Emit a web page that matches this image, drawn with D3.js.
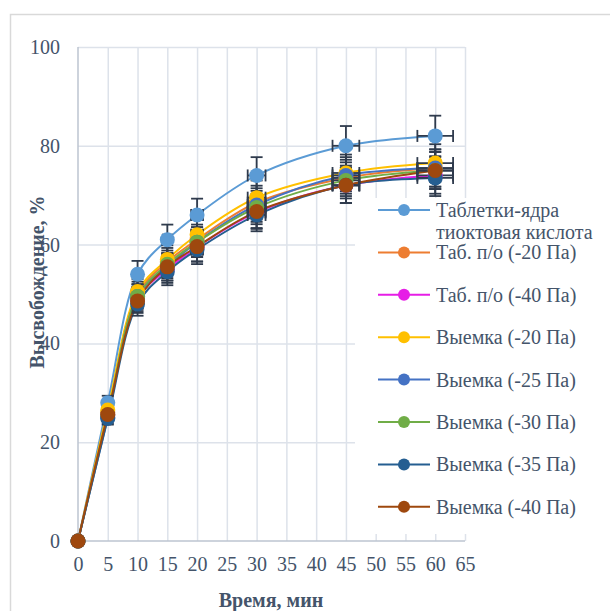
<!DOCTYPE html>
<html>
<head>
<meta charset="utf-8">
<script src="https://cdn.jsdelivr.net/npm/d3@7"></script>
<style>
  body { margin: 0; background: #fff; }
</style>
</head>
<body>
<script>
// data (release, %)
var times = [0, 5, 10, 15, 20, 30, 45, 60];
var coreTabs = [0, 28, 54, 61, 66, 74, 80, 82];
var coated20 = [0, 26, 50, 56.5, 61, 68.5, 73.5, 75.5];
var coated40 = [0, 25.5, 49, 55, 59.5, 66.5, 72, 74];
var notch20 = [0, 26.5, 50.5, 57, 62, 69.5, 74.5, 76.5];
var notch25 = [0, 25, 49.5, 55.5, 60.5, 68, 74, 75.5];
var notch30 = [0, 25.5, 49.5, 56, 60.5, 67.5, 73, 75];
var notch35 = [0, 24.8, 48, 54.5, 59, 66, 72, 73.5];
var notch40 = [0, 25.6, 48.6, 55.5, 59.6, 66.7, 72, 75];

var seriesNames = ["Таблетки-ядра|тиоктовая кислота", "Таб. п/о (-20 Па)", "Таб. п/о (-40 Па)",
  "Выемка (-20 Па)", "Выемка (-25 Па)", "Выемка (-30 Па)", "Выемка (-35 Па)", "Выемка (-40 Па)"];
var seriesValues = [coreTabs, coated20, coated40, notch20, notch25, notch30, notch35, notch40];
var seriesColors = ["#5b9bd5", "#ed7d31", "#e61ee6", "#ffc000", "#4472c4", "#70ad47", "#255e91", "#9e480e"];

var xTicks = d3.range(0, 66, 5);
var yTicks = [0, 20, 40, 60, 80, 100];
var errPct = 0.05; // 5% error bars both ways

var FONT = "'Liberation Serif', 'Times New Roman', serif";
var TXT = "#44546a";

var series = seriesNames.map(function (n, i) {
  return {
    name: n, color: seriesColors[i],
    pts: times.map(function (t, j) { return { x: t, y: seriesValues[i][j] }; })
  };
});

var width = 610, height = 611;
var svg = d3.select("body").append("svg")
  .attr("width", width).attr("height", height)
  .attr("font-family", FONT);

// outer chart border
svg.append("rect")
  .attr("x", 10.5).attr("y", 14.5).attr("width", 700).attr("height", 700)
  .attr("fill", "#fff").attr("stroke", "#d9d9d9").attr("stroke-width", 1.5);

var x = d3.scaleLinear().domain([0, 65]).range([78, 465]);
var y = d3.scaleLinear().domain([0, 100]).range([541, 47]);

// gridlines
svg.append("g")
  .attr("transform", "translate(0,541)")
  .call(d3.axisBottom(x).tickValues(xTicks.slice(1)).tickSize(-494).tickFormat(""))
  .call(function (g) {
    g.select(".domain").remove();
    g.selectAll("line").attr("stroke", "#dde2ea").attr("stroke-width", 1.5);
  });
svg.append("g")
  .attr("transform", "translate(78,0)")
  .call(d3.axisLeft(y).tickValues(yTicks.slice(1)).tickSize(-387).tickFormat(""))
  .call(function (g) {
    g.select(".domain").remove();
    g.selectAll("line").attr("stroke", "#dde2ea").attr("stroke-width", 1.5);
  });

// axis lines
svg.append("line").attr("x1", 78).attr("x2", 78).attr("y1", 47).attr("y2", 541)
  .attr("stroke", "#bcc4d1").attr("stroke-width", 1.5);
svg.append("line").attr("x1", 78).attr("x2", 465).attr("y1", 541).attr("y2", 541)
  .attr("stroke", "#bcc4d1").attr("stroke-width", 1.5);

// tick labels
svg.append("g")
  .attr("transform", "translate(0,541)")
  .call(d3.axisBottom(x).tickValues(xTicks).tickSize(0).tickPadding(16))
  .call(function (g) {
    g.attr("font-family", FONT).attr("font-size", 20);
    g.select(".domain").remove();
    g.selectAll("text").attr("fill", TXT);
  });
svg.append("g")
  .attr("transform", "translate(60,0)")
  .call(d3.axisLeft(y).tickValues(yTicks).tickSize(0).tickPadding(0))
  .call(function (g) {
    g.attr("font-family", FONT).attr("font-size", 20);
    g.select(".domain").remove();
    g.selectAll("text").attr("fill", TXT);
  });

// axis titles
svg.append("text")
  .attr("x", 271).attr("y", 607)
  .attr("text-anchor", "middle").attr("font-size", 20).attr("font-weight", "bold")
  .attr("fill", TXT)
  .text("Время, мин");
svg.append("text")
  .attr("transform", "translate(44,282) rotate(-90)")
  .attr("text-anchor", "middle").attr("font-size", 20).attr("font-weight", "bold")
  .attr("fill", TXT)
  .text("Высвобождение, %");

// lines
var line = d3.line()
  .x(function (d) { return x(d.x); })
  .y(function (d) { return y(d.y); })
  .curve(d3.curveCatmullRom.alpha(0.5));

svg.append("g").selectAll("path")
  .data(series)
  .enter()
  .append("path")
  .attr("d", function (d) { return line(d.pts); })
  .attr("fill", "none")
  .attr("stroke", function (d) { return d.color; })
  .attr("stroke-width", 2);

// error bars
var errColor = "#2f3b4d";
var cap = 6;
var eb = svg.append("g").attr("stroke", errColor).attr("stroke-width", 1.8);
series.forEach(function (s) {
  s.pts.forEach(function (p) {
    if (p.x === 0 && p.y === 0) return;
    var cx = x(p.x), cy = y(p.y);
    var y1 = y(p.y * (1 + errPct)), y2 = y(p.y * (1 - errPct));
    var x1 = x(p.x * (1 - errPct)), x2 = x(p.x * (1 + errPct));
    eb.append("line").attr("x1", cx).attr("x2", cx).attr("y1", y1).attr("y2", y2);
    eb.append("line").attr("x1", cx - cap).attr("x2", cx + cap).attr("y1", y1).attr("y2", y1);
    eb.append("line").attr("x1", cx - cap).attr("x2", cx + cap).attr("y1", y2).attr("y2", y2);
    eb.append("line").attr("x1", x1).attr("x2", x2).attr("y1", cy).attr("y2", cy);
    eb.append("line").attr("x1", x1).attr("x2", x1).attr("y1", cy - cap).attr("y2", cy + cap);
    eb.append("line").attr("x1", x2).attr("x2", x2).attr("y1", cy - cap).attr("y2", cy + cap);
  });
});

// markers
series.forEach(function (s) {
  svg.append("g").selectAll("circle")
    .data(s.pts)
    .enter()
    .append("circle")
    .attr("cx", function (d) { return x(d.x); })
    .attr("cy", function (d) { return y(d.y); })
    .attr("r", 7.5)
    .attr("fill", s.color);
});

// legend
var legend = svg.append("g");
legend.append("rect")
  .attr("x", 355).attr("y", 198).attr("width", 260).attr("height", 336)
  .attr("fill", "#fff");
series.forEach(function (s, i) {
  var ly = 210 + i * 42.4;
  legend.append("line").attr("x1", 378).attr("x2", 430).attr("y1", ly).attr("y2", ly)
    .attr("stroke", s.color).attr("stroke-width", 2);
  legend.append("circle").attr("cx", 404).attr("cy", ly).attr("r", 6).attr("fill", s.color);
  var parts = s.name.split("|");
  parts.forEach(function (p, k) {
    legend.append("text")
      .attr("x", 436).attr("y", ly + 7 + k * 22)
      .attr("font-size", 20)
      .attr("fill", TXT)
      .text(p);
  });
});
</script>
</body>
</html>
